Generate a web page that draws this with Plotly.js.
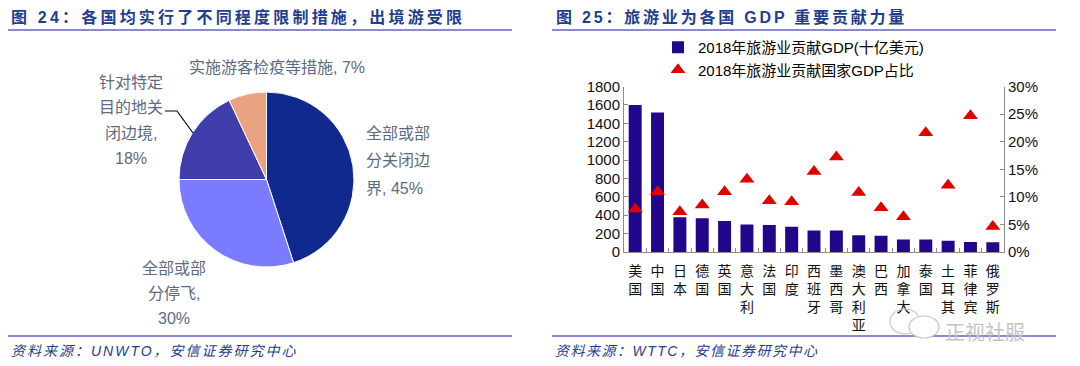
<!DOCTYPE html>
<html>
<head>
<meta charset="utf-8">
<script src="https://cdn.plot.ly/plotly-3.0.1.min.js"></script>
<style>
html,body{margin:0;padding:0;background:#fff;}
#chart{width:1080px;height:366px;}
</style>
</head>
<body>
<div id="chart"></div>
<script>
// ---------- DATA ----------
const pieCategories = ['全部或部分关闭边界', '全部或部分停飞', '针对特定目的地关闭边境', '实施游客检疫等措施'];
const pieValues = [45, 30, 18, 7];
const pieColors = ['#10298E', '#7B7BFF', '#3F3DAA', '#EBA283'];
// label lines as they are wrapped in the reference
const pieLabelLines = [
  ['全部或部', '分关闭边', '界, 45%'],
  ['全部或部', '分停飞,', '30%'],
  ['针对特定', '目的地关', '闭边境,', '18%'],
  ['实施游客检疫等措施, 7%']
];

const countries = ['美国','中国','日本','德国','英国','意大利','法国','印度','西班牙','墨西哥','澳大利亚','巴西','加拿大','泰国','土耳其','菲律宾','俄罗斯'];
const gdpContribution = [1600, 1518, 377, 366, 336, 300, 293, 275, 235, 233, 181, 177, 137, 137, 123, 108, 105];
const gdpShare = [7.8, 10.9, 7.3, 8.5, 10.9, 13.2, 9.3, 9.1, 14.6, 17.2, 10.8, 8.0, 6.4, 21.6, 12.1, 24.7, 4.6];
const seriesNames = ['2018年旅游业贡献GDP(十亿美元)', '2018年旅游业贡献国家GDP占比'];
const yTicksLeft = [0,200,400,600,800,1000,1200,1400,1600,1800];
const yTicksRight = [0,5,10,15,20,25,30];
const yTickTextRight = ['0%','5%','10%','15%','20%','25%','30%'];

const titleLeft = '图 24：各国均实行了不同程度限制措施，出境游受限';
const titleRight = '图 25：旅游业为各国 GDP 重要贡献力量';
const sourceLeft = '资料来源：UNWTO，安信证券研究中心';
const sourceRight = '资料来源：WTTC，安信证券研究中心';
const watermark = '正视社服';

// ---------- HELPERS ----------
const W = 1080, H = 366;
const px = x => x / W;
const py = y => 1 - y / H;
const FONT = 'Liberation Sans, Arial, Noto Sans CJK SC, sans-serif';
const TITLE_COLOR = '#1F3E8E';
const LABEL_COLOR = '#5A6A82';

// ---------- TRACES ----------
const pieTrace = {
  type: 'pie',
  values: pieValues,
  labels: pieCategories,
  marker: {colors: pieColors, line: {color: '#ffffff', width: 1}},
  sort: false,
  direction: 'clockwise',
  rotation: 0,
  textinfo: 'none',
  hoverinfo: 'label+percent',
  showlegend: false,
  domain: {x: [px(179), px(354)], y: [py(267), py(92)]}
};

const barTrace = {
  type: 'bar',
  name: seriesNames[0],
  x: countries,
  y: gdpContribution,
  marker: {color: '#22078C'},
  xaxis: 'x', yaxis: 'y'
};

const triTrace = {
  type: 'scatter',
  mode: 'markers',
  name: seriesNames[1],
  x: countries,
  y: gdpShare,
  marker: {symbol: 'triangle-up', size: 13, color: '#E00000'},
  xaxis: 'x', yaxis: 'y2'
};

// ---------- ANNOTATIONS ----------
const annotations = [];
function addLines(lines, x, yFirst, step, xanchor, align) {
  lines.forEach((t, i) => {
    annotations.push({
      xref: 'paper', yref: 'paper', x: px(x), y: py(yFirst + i * step),
      text: t, showarrow: false, xanchor: xanchor, yanchor: 'middle', align: align || 'center',
      font: {family: FONT, size: 16, color: LABEL_COLOR}
    });
  });
}
addLines(pieLabelLines[0], 364, 133, 27.5, 'left', 'left');
addLines(pieLabelLines[1], 174, 268, 25, 'center');
addLines(pieLabelLines[2], 131, 82, 25.5, 'center');
addLines(pieLabelLines[3], 277, 67, 25, 'center');

function addText(t, x, y, size, opts) {
  annotations.push(Object.assign({
    xref: 'paper', yref: 'paper', x: px(x), y: py(y), text: t, showarrow: false,
    xanchor: 'left', yanchor: 'middle', align: 'left',
    font: {family: FONT, size: size, color: TITLE_COLOR}
  }, opts || {}));
}
addText('<b>' + titleLeft + '</b>', 9, 17, 16);
addText('<b>' + titleRight + '</b>', 554, 17, 16);
addText('<i>' + sourceLeft + '</i>', 9, 351, 14);
addText('<i>' + sourceRight + '</i>', 553, 351, 14);
addText(watermark, 944, 331, 20, {borderpad: 0, font: {family: 'Noto Sans CJK SC, sans-serif', size: 20, color: '#C4C4C4'}});

// ---------- SHAPES ----------
const lineStyle = {color: '#8A8AD2', width: 2};
const shapes = [
  {type: 'line', xref: 'paper', yref: 'paper', x0: px(8), x1: px(512), y0: py(30), y1: py(30), line: lineStyle},
  {type: 'line', xref: 'paper', yref: 'paper', x0: px(552), x1: px(1056), y0: py(30), y1: py(30), line: lineStyle},
  {type: 'line', xref: 'paper', yref: 'paper', x0: px(8), x1: px(512), y0: py(336), y1: py(336), line: lineStyle},
  {type: 'line', xref: 'paper', yref: 'paper', x0: px(552), x1: px(1056), y0: py(336), y1: py(336), line: lineStyle},
  // leader line for the 18% label
  {type: 'path', xref: 'paper', yref: 'paper',
   path: 'M ' + px(165) + ' ' + py(111) + ' L ' + px(177) + ' ' + py(111) + ' L ' + px(193) + ' ' + py(133),
   line: {color: '#000000', width: 1.2}},
  // WeChat-like logo bubbles beside the watermark
  {type: 'circle', xref: 'paper', yref: 'paper', x0: px(890), x1: px(920), y0: py(334), y1: py(309), line: {color: '#C4C4C4', width: 1.2}},
  {type: 'circle', xref: 'paper', yref: 'paper', x0: px(909), x1: px(939), y0: py(338), y1: py(316), line: {color: '#C4C4C4', width: 1.2}, fillcolor: '#ffffff'}
];

// ---------- LAYOUT ----------
const gridColor = '#8C8C8C';
const layout = {
  width: W, height: H,
  margin: {l: 0, r: 0, t: 0, b: 0},
  paper_bgcolor: '#ffffff', plot_bgcolor: 'rgba(0,0,0,0)',
  font: {family: FONT, color: '#000'},
  bargap: 0.42,
  showlegend: true,
  legend: {
    x: px(658), y: py(31), xanchor: 'left', yanchor: 'top',
    bgcolor: 'rgba(0,0,0,0)', font: {family: FONT, size: 15, color: '#000'},
    itemwidth: 30, tracegroupgap: 0
  },
  xaxis: {
    domain: [px(624), px(1004)],
    type: 'category',
    range: [-0.5, countries.length - 0.5],
    tickvals: countries,
    ticktext: countries.map(c => c.split('').join('<br>')),
    tickangle: 0,
    ticks: 'inside', tickson: 'boundaries', ticklen: 4, tickcolor: gridColor,
    ticklabelstandoff: 6,
    showline: true, linecolor: gridColor, linewidth: 1,
    showgrid: false, zeroline: false,
    tickfont: {family: FONT, size: 14, color: '#111'},
    fixedrange: true
  },
  yaxis: {
    domain: [py(252), py(86.5)],
    range: [0, 1800],
    tickvals: yTicksLeft,
    ticks: 'inside', ticklen: 4, tickcolor: gridColor,
    showline: true, linecolor: gridColor, linewidth: 1,
    showgrid: false, zeroline: false,
    tickfont: {family: FONT, size: 15, color: '#111'},
    fixedrange: true
  },
  yaxis2: {
    overlaying: 'y', side: 'right', anchor: 'x',
    range: [0, 30],
    tickvals: yTicksRight,
    ticktext: yTickTextRight,
    ticks: 'inside', ticklen: 4, tickcolor: gridColor,
    showline: true, linecolor: gridColor, linewidth: 1,
    showgrid: false, zeroline: false,
    tickfont: {family: FONT, size: 15, color: '#111'},
    fixedrange: true
  },
  annotations: annotations,
  shapes: shapes
};

Plotly.newPlot('chart', [pieTrace, barTrace, triTrace], layout, {displayModeBar: false, staticPlot: true}).then(() => {
  // letter spacing for the header and source lines, as in the reference typesetting
  document.querySelectorAll('g.annotation text.annotation-text').forEach(el => {
    const t = el.textContent;
    if (t === titleLeft) el.style.letterSpacing = '3.2px';
    else if (t === titleRight) el.style.letterSpacing = '2.8px';
    else if (t === sourceLeft) el.style.letterSpacing = '2px';
    else if (t === sourceRight) el.style.letterSpacing = '1.5px';
  });
});
</script>
</body>
</html>
